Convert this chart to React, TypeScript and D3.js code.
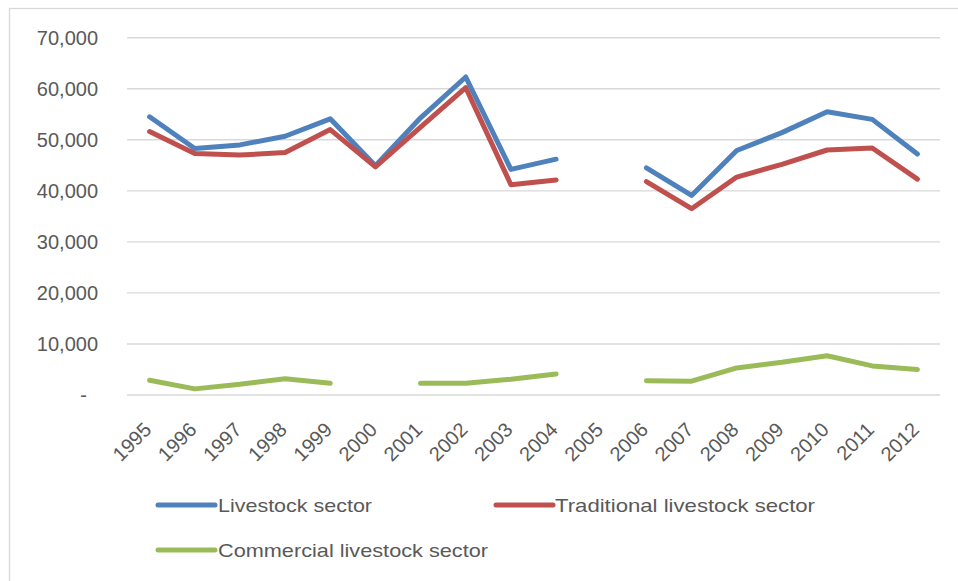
import React from "react";
import * as d3 from "d3";

const years = ["1995","1996","1997","1998","1999","2000","2001","2002","2003","2004","2005","2006","2007","2008","2009","2010","2011","2012"];
const livestock: (number | null)[] = [54500, 48300, 49000, 50700, 54100, 44900, 54300, 62300, 44200, 46200, null, 44500, 39100, 47900, 51400, 55500, 54000, 47200];
const traditional: (number | null)[] = [51600, 47300, 47000, 47500, 52000, 44700, 52500, 60200, 41200, 42100, null, 41800, 36500, 42700, 45200, 48000, 48400, 42300];
const commercial: (number | null)[] = [2900, 1200, 2100, 3200, 2300, null, 2300, 2300, 3100, 4100, null, 2800, 2700, 5300, 6400, 7700, 5700, 5000];
const yTicks = [0, 10000, 20000, 30000, 40000, 50000, 60000, 70000];
const seriesNames = ["Livestock sector", "Traditional livestock sector", "Commercial livestock sector"];
const seriesColors = ["#4F81BD", "#C0504D", "#9BBB59"];

export default function App() {
  const W = 958, H = 581;
  const x = d3.scalePoint<string>().domain(years).range([127, 940]).padding(0.5);
  const y = d3.scaleLinear().domain([0, 70000]).range([395, 37.7]);
  const fmt = d3.format(",");
  const series = [livestock, traditional, commercial];
  const line = d3.line<number | null>()
    .defined(d => d != null)
    .x((_, i) => x(years[i]) as number)
    .y(d => y(d as number));

  const legend = [
    { lx: 158, ly: 505, tx: 218, tw: 154 },
    { lx: 496, ly: 505, tx: 555, tw: 260 },
    { lx: 158, ly: 550, tx: 218, tw: 270 },
  ];
  const font = "'Liberation Sans', Arial, sans-serif";

  return (
    <svg width={W} height={H} style={{ position: "absolute", left: 0, top: 0, background: "#fff" }} fontFamily={font}>
      <rect x={0} y={0} width={W} height={H} fill="#fff" />
      <rect x={9.5} y={8.5} width={W + 20} height={H + 20} fill="none" stroke="#D9D9D9" strokeWidth={1.3} />
      {yTicks.map(t => (
        <g key={t}>
          <line x1={127} x2={940} y1={y(t)} y2={y(t)} stroke="#D9D9D9" strokeWidth={1.4} />
          <text x={t === 0 ? 87 : 98} y={y(t)} dy="0.35em" textAnchor="end" fontSize={20} fill="#595959">
            {t === 0 ? "-" : fmt(t)}
          </text>
        </g>
      ))}
      {years.map(yr => (
        <text key={yr} transform={`translate(${(x(yr) as number) + 3},${431}) rotate(-45)`} textAnchor="end" fontSize={20} fill="#595959">
          {yr}
        </text>
      ))}
      {series.map((s, i) => (
        <path key={i} d={line(s) || ""} fill="none" stroke={seriesColors[i]} strokeWidth={5} strokeLinejoin="round" strokeLinecap="round" />
      ))}
      {legend.map((l, i) => (
        <g key={i}>
          <line x1={l.lx} x2={l.lx + 57} y1={l.ly} y2={l.ly} stroke={seriesColors[i]} strokeWidth={5} strokeLinecap="round" />
          <text x={l.tx} y={l.ly + 7} fontSize={19} fill="#595959" textLength={l.tw} lengthAdjust="spacingAndGlyphs">
            {seriesNames[i]}
          </text>
        </g>
      ))}
    </svg>
  );
}
